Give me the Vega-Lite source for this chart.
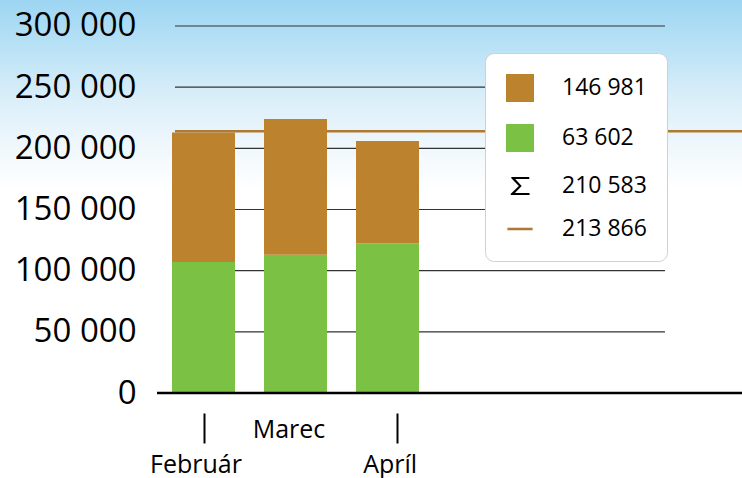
{
  "$schema": "https://vega.github.io/schema/vega-lite/v6.json",
  "width": 742,
  "height": 478,
  "autosize": {"type": "none"},
  "padding": 0,
  "background": "white",
  "config": {"view": {"stroke": null}, "font": "Open Sans"},
  "layer": [
    {
      "data": {"values": []},
      "mark": {"type": "point", "filled": true, "opacity": 1},
      "encoding": {
        "color": {
          "field": "seria", "type": "nominal",
          "scale": {"domain": ["146 981", "63 602", "210 583", "213 866"], "range": ["#BD822D", "#7BC143", "#000000", "#AD7A33"]},
          "legend": {
            "orient": "none", "legendX": 485, "legendY": 53, "title": null,
            "padding": 20, "rowPadding": 16, "fillColor": "white", "strokeColor": "#d0d0d0", "cornerRadius": 9,
            "symbolSize": 784, "symbolOpacity": 1, "labelFont": "Open Sans", "labelFontSize": 23, "labelColor": "black",
            "labelOffset": 27, "labelLimit": 400, "labelBaseline": "middle"
          }
        },
        "shape": {
          "field": "seria", "type": "nominal",
          "scale": {"domain": ["146 981", "63 602", "210 583", "213 866"], "range": ["square", "square", "M -0.62 -0.64 L 0.66 -0.64 L 0.66 -0.5 L -0.34 -0.5 L 0.12 0 L -0.36 0.5 L 0.68 0.5 L 0.68 0.64 L -0.66 0.64 L -0.66 0.55 L -0.08 0 L -0.62 -0.56 Z", "M -0.9 -0.09 L 0.9 -0.09 L 0.9 0.09 L -0.9 0.09 Z"]}
        }
      }
    },
    {
      "data": {"values": [{"pozadie": 1}]},
      "mark": {
        "type": "rect",
        "color": {
          "gradient": "linear", "x1": 0, "y1": 0, "x2": 0, "y2": 1,
          "stops": [
            {"offset": 0, "color": "#9dd5f2"},
            {"offset": 0.1, "color": "#b9e2f6"},
            {"offset": 0.2, "color": "#d9eef9"},
            {"offset": 0.3, "color": "#eef7fc"},
            {"offset": 0.4, "color": "#ffffff"},
            {"offset": 1, "color": "#ffffff"}
          ]
        }
      },
      "encoding": {}
    },
    {
      "data": {"values": [{"v": 50000}, {"v": 100000}, {"v": 150000}, {"v": 200000}, {"v": 250000}, {"v": 300000}]},
      "mark": {"type": "rule", "color": "#333333", "strokeWidth": 1.2},
      "encoding": {
        "y": {"field": "v", "type": "quantitative"},
        "x": {"datum": 1.69},
        "x2": {"datum": 7.016}
      }
    },
    {
      "data": {"values": [{"priemer": 213866}]},
      "mark": {"type": "rule", "color": "#AD7A33", "strokeWidth": 2.5},
      "encoding": {
        "y": {"field": "priemer", "type": "quantitative"},
        "x": {"datum": 1.69},
        "x2": {"datum": 7.8533}
      }
    },
    {
      "data": {"values": [
        {"mesiac": "Február", "cislo": 2, "seria": "63 602", "hodnota": 107000},
        {"mesiac": "Február", "cislo": 2, "seria": "146 981", "hodnota": 106000},
        {"mesiac": "Marec", "cislo": 3, "seria": "63 602", "hodnota": 113000},
        {"mesiac": "Marec", "cislo": 3, "seria": "146 981", "hodnota": 111000},
        {"mesiac": "Apríl", "cislo": 4, "seria": "63 602", "hodnota": 122500},
        {"mesiac": "Apríl", "cislo": 4, "seria": "146 981", "hodnota": 83500}
      ]},
      "mark": {"type": "bar", "width": 63},
      "encoding": {
        "x": {
          "field": "cislo", "type": "quantitative",
          "scale": {"domain": [-0.212, 7.8533], "nice": false, "zero": false, "padding": 0},
          "axis": {
            "title": null, "values": [2, 3, 4.1], "orient": "bottom", "offset": -65, "zindex": 1,
            "domain": false, "grid": false, "ticks": true, "tickSize": 30, "tickWidth": 2, "tickColor": "black",
            "tickOpacity": {"condition": {"test": "datum.value == 3", "value": 0}, "value": 1},
            "labelExpr": "datum.value == 2 ? 'Február' : datum.value == 3 ? 'Marec' : 'Apríl'",
            "labelFont": "Open Sans", "labelFontSize": 25, "labelColor": "black",
            "labelPadding": {"condition": {"test": "datum.value == 3", "value": -26}, "value": 9},
            "labelOffset": {"condition": [{"test": "datum.value == 2", "value": -8}, {"test": "datum.value == 3", "value": -7}], "value": -7},
            "labelOverlap": false, "labelFlush": false
          }
        },
        "y": {
          "field": "hodnota", "type": "quantitative", "stack": "zero",
          "scale": {"domain": [-69482, 321253], "nice": false, "zero": false, "padding": 0},
          "axis": {
            "title": null, "values": [0, 50000, 100000, 150000, 200000, 250000, 300000],
            "orient": "left", "offset": -157, "zindex": 1, "domain": false, "grid": false, "ticks": false, "tickSize": 0,
            "labelPadding": 21, "labelFont": "Open Sans", "labelFontSize": 33, "labelColor": "black",
            "labelExpr": "replace(format(datum.value, ','), ',', ' ')",
            "labelOverlap": false, "labelFlush": false
          }
        },
        "color": {"field": "seria", "type": "nominal"},
        "order": {"field": "seria", "sort": "descending"}
      }
    },
    {
      "data": {"values": [{"zaklad": 0}]},
      "mark": {"type": "rule", "color": "black", "strokeWidth": 2.5},
      "encoding": {
        "y": {"field": "zaklad", "type": "quantitative"},
        "x": {"datum": 1.4946},
        "x2": {"datum": 7.8533}
      }
    }
  ]
}
